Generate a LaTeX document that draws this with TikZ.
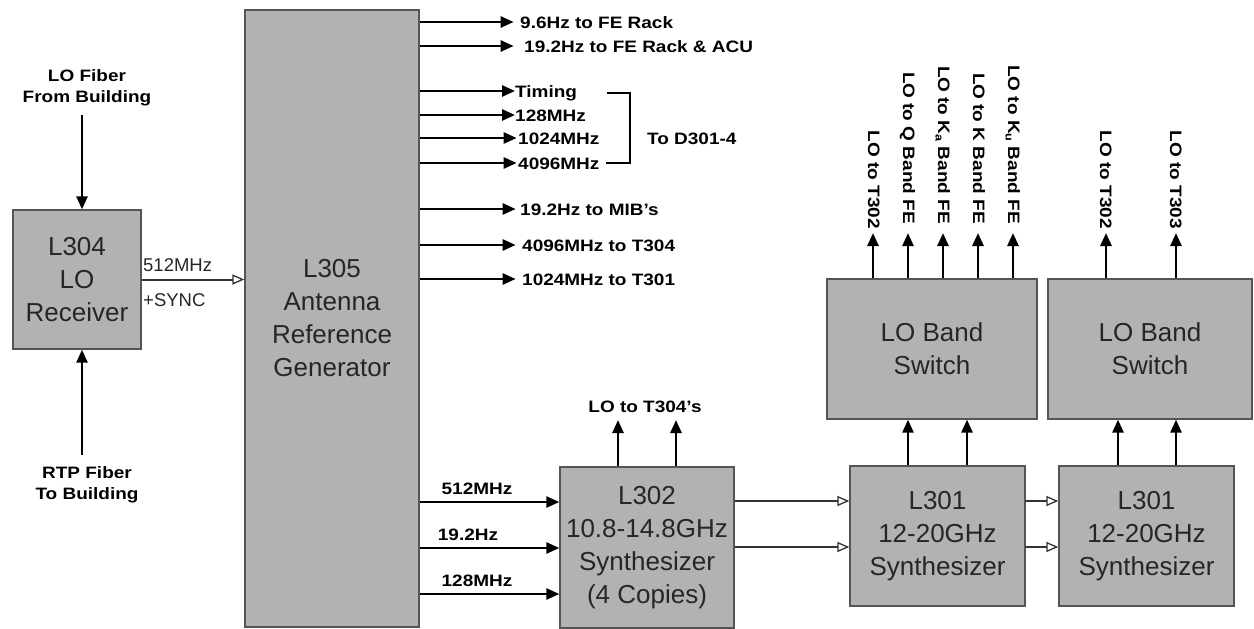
\documentclass[tikz,border=0pt]{standalone}
\usepackage{fontspec}
\setmainfont{Liberation Sans}
\newfontfamily\labfont[FakeStretch=1.15]{Liberation Sans}
\usetikzlibrary{arrows.meta,calc}
\definecolor{boxgray}{RGB}{178,178,178}
\definecolor{edgegray}{RGB}{85,85,85}
\newcommand{\sbs}[1]{\raisebox{-2.5pt}{\fontsize{11}{11}\selectfont #1}}
\tikzset{
  blk/.style={draw=edgegray, line width=1.3pt, fill=boxgray, inner sep=0pt, align=center,
    font=\fontsize{26}{33}\selectfont, text=black!85},
  lab/.style={inner sep=0pt, font=\labfont\bfseries\fontsize{16.5}{21}\selectfont, text height=12pt, text depth=0pt},
  mlab/.style={inner sep=0pt, align=center, font=\labfont\bfseries\fontsize{16.5}{21}\selectfont},
  rlab/.style={lab, rotate=-90, anchor=east},
  sig/.style={line width=2.6pt, -{Triangle[length=13pt,width=11pt]}},
  osig/.style={line width=2pt, draw=black!80, -{Triangle[open,length=12pt,width=10pt,line width=1.3pt]}},
}
\begin{document}
\begin{tikzpicture}[x=1pt,y=-1pt]
\useasboundingbox (0,0) rectangle (1254,629);
% blocks
\node[blk, minimum width=128pt, minimum height=139pt] (l304) at (77,279.5) {L304\\LO\\Receiver};
\node[blk, minimum width=174pt, minimum height=617pt] (l305) at (332,318.5) {L305\\Antenna\\Reference\\Generator};
\node[blk, minimum width=174pt, minimum height=161pt] (l302) at (647,547.5) {L302\\10.8-14.8GHz\\Synthesizer\\(4 Copies)};
\node[blk, minimum width=175pt, minimum height=140pt] (l301a) at (937.5,536) {L301\\12-20GHz\\Synthesizer};
\node[blk, minimum width=175pt, minimum height=140pt] (l301b) at (1146.5,536) {L301\\12-20GHz\\Synthesizer};
\node[blk, minimum width=210pt, minimum height=140pt] (swa) at (932,349) {LO Band\\Switch};
\node[blk, minimum width=204pt, minimum height=140pt] (swb) at (1150,349) {LO Band\\Switch};

% L304 inputs
\node[mlab] (lofib) at (87,88) {LO Fiber\\From Building};
\node[mlab] (rtpfib) at (87,485) {RTP Fiber\\To Building};
\coordinate (lofend) at (82,115);
\coordinate (rtpend) at (82,455);
\draw[sig] (lofend) -- (l304.north -| lofend);
\draw[sig] (rtpend) -- (l304.south -| rtpend);

% L304 -> L305
\draw[osig] (l304.east) -- (l304.east -| l305.west);
\node[inner sep=0pt, anchor=west, font=\fontsize{18.5}{22}\selectfont, text=black!85] (f512) at (143,265) {512MHz};
\node[inner sep=0pt, anchor=west, font=\fontsize{18.5}{22}\selectfont, text=black!85] (sync) at (143,300) {+SYNC};

% L305 outputs
\node[lab, anchor=west] (o1) at (520,22) {9.6Hz to FE Rack};
\node[lab, anchor=west] (o2) at (524,46) {19.2Hz to FE Rack \& ACU};
\node[lab, anchor=west] (o3) at (515,91) {Timing};
\node[lab, anchor=west] (o4) at (515,115) {128MHz};
\node[lab, anchor=west] (o5) at (518,138) {1024MHz};
\node[lab, anchor=west] (o6) at (518,163) {4096MHz};
\node[lab, anchor=west] (o7) at (520,209) {19.2Hz to MIB’s};
\node[lab, anchor=west] (o8) at (522,245) {4096MHz to T304};
\node[lab, anchor=west] (o9) at (522,279) {1024MHz to T301};
\draw[sig] (l305.east |- o1.west) -- ++(94,0);
\draw[sig] (l305.east |- o2.west) -- ++(94,0);
\draw[sig] (l305.east |- o3.west) -- (o3.west);
\draw[sig] (l305.east |- o4.west) -- (o4.west);
\draw[sig] (l305.east |- o5.west) -- ++(97,0);
\draw[sig] (l305.east |- o6.west) -- ++(97,0);
\draw[sig] (l305.east |- o7.west) -- ++(96,0);
\draw[sig] (l305.east |- o8.west) -- ++(96,0);
\draw[sig] (l305.east |- o9.west) -- ++(96,0);
% bracket
\coordinate (bt) at (607,93);
\coordinate (bb) at (606,163);
\draw[line width=1.3pt] (bt) -- ++(23,0) |- (bb);
\node[lab, anchor=west] (d301) at (647,138) {To D301-4};

% L305 -> L302
\node[lab] (i1) at (477,488) {512MHz};
\node[lab] (i2) at (468,534) {19.2Hz};
\node[lab] (i3) at (477,580) {128MHz};
\draw[sig] (l305.east |- 0,502) -- (l302.west |- 0,502);
\draw[sig] (l305.east |- 0,548) -- (l302.west |- 0,548);
\draw[sig] (l305.east |- 0,594) -- (l302.west |- 0,594);

% L302 outputs
\node[lab] (t304) at (645,406) {LO to T304’s};
\draw[sig] (l302.north -| 618,0) -- (618,420);
\draw[sig] (l302.north -| 676,0) -- (676,420);

% L302 -> L301a -> L301b
\draw[osig] (l302.east |- 0,501) -- (l301a.west |- 0,501);
\draw[osig] (l302.east |- 0,547) -- (l301a.west |- 0,547);
\draw[osig] (l301a.east |- 0,501) -- (l301b.west |- 0,501);
\draw[osig] (l301a.east |- 0,547) -- (l301b.west |- 0,547);

% L301 -> switches
\draw[sig] (l301a.north -| 908,0) -- (swa.south -| 908,0);
\draw[sig] (l301a.north -| 967,0) -- (swa.south -| 967,0);
\draw[sig] (l301b.north -| 1118,0) -- (swb.south -| 1118,0);
\draw[sig] (l301b.north -| 1176,0) -- (swb.south -| 1176,0);

% switch outputs
\node[rlab] (a1) at (874,229) {LO to T302};
\node[rlab] (a2) at (909,224) {LO to Q Band FE};
\node[rlab] (a3) at (944,224) {LO to K\sbs{a} Band FE};
\node[rlab] (a4) at (979,224) {LO to K Band FE};
\node[rlab] (a5) at (1014,224) {LO to K\sbs{u} Band FE};
\node[rlab] (b1) at (1106,229) {LO to T302};
\node[rlab] (b2) at (1176,229) {LO to T303};
\draw[sig] (swa.north -| 873,0) -- (873,233);
\draw[sig] (swa.north -| 908,0) -- (908,233);
\draw[sig] (swa.north -| 943,0) -- (943,233);
\draw[sig] (swa.north -| 978,0) -- (978,233);
\draw[sig] (swa.north -| 1013,0) -- (1013,233);
\draw[sig] (swb.north -| 1106,0) -- (1106,233);
\draw[sig] (swb.north -| 1176,0) -- (1176,233);
\end{tikzpicture}
\end{document}
